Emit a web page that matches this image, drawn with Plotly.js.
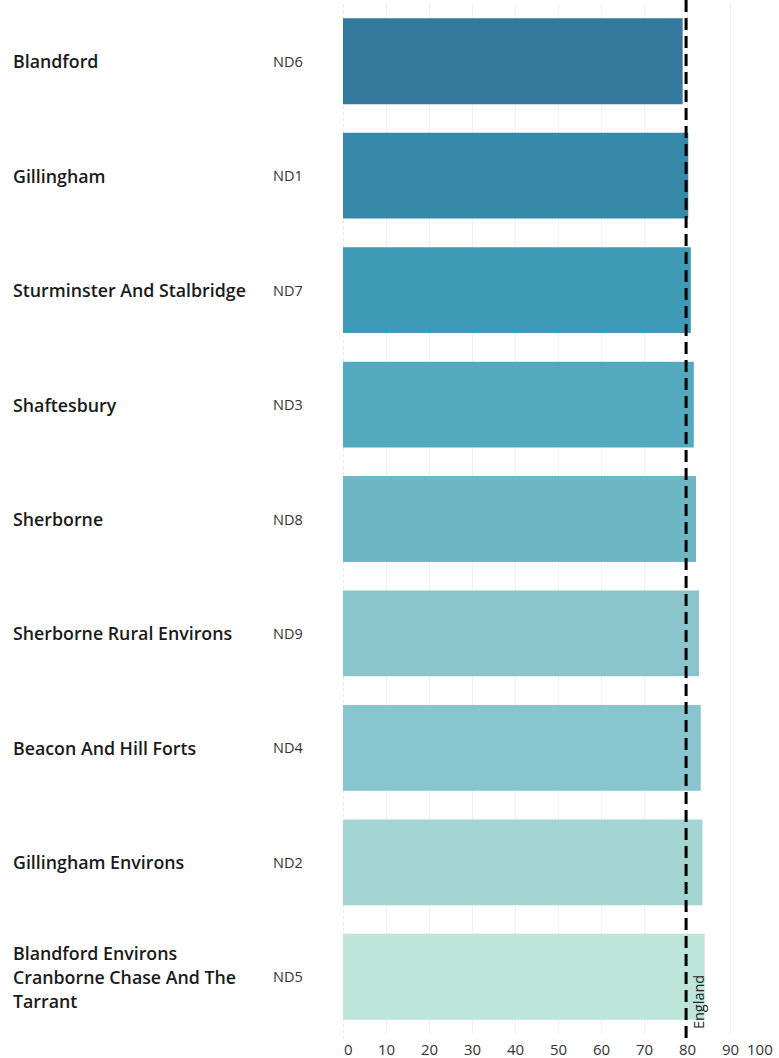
<!DOCTYPE html>
<html>
<head>
<meta charset="utf-8">
<script src="https://cdn.plot.ly/plotly-3.0.1.min.js"></script>
<style>
html,body{margin:0;padding:0;background:#fff;}
#chart{width:779px;height:1058px;}
</style>
</head>
<body>
<div id="chart"></div>
<script>
// ---- data ----
const areas = [
  "Blandford",
  "Gillingham",
  "Sturminster And Stalbridge",
  "Shaftesbury",
  "Sherborne",
  "Sherborne Rural Environs",
  "Beacon And Hill Forts",
  "Gillingham Environs",
  "Blandford Environs\nCranborne Chase And The\nTarrant"
];
const codes = ["ND6","ND1","ND7","ND3","ND8","ND9","ND4","ND2","ND5"];
const values = [78.8, 80.1, 80.7, 81.4, 81.9, 82.6, 83.0, 83.4, 83.9];
const barColors = ["#34799b","#3789aa","#3e9ab5","#53aabf","#6eb7c5","#8ac5cd","#89c5ce","#a3d6d2","#bde5da"];
const englandValue = 79.6;
const englandLabel = "England";
const tickVals = [0,10,20,30,40,50,60,70,80,90,100];
const tickText = ["0","10","20","30","40","50","60","70","80","90","100"];

// ---- layout helpers ----
const W = 779, H = 1058;
const mL = 343, mR = 5, mT = 4, mB = 24;
const plotW = W - mL - mR, plotH = H - mT - mB;
const px2paperX = p => (p - mL) / plotW;

const annotations = [];
areas.forEach((a, i) => {
  const lines = a.split("\n");
  lines.forEach((ln, j) => {
    annotations.push({
      xref: "paper", yref: "y", x: px2paperX(11), y: i,
      xanchor: "left", yanchor: "middle",
      yshift: -((j - (lines.length - 1) / 2) * 24),
      text: ln, showarrow: false,
      font: {family: "Open Sans, sans-serif", size: 17.8, color: "#1a1a1a", weight: 600}
    });
  });
  annotations.push({
    xref: "paper", yref: "y", x: px2paperX(271), y: i,
    xanchor: "left", yanchor: "middle",
    text: codes[i], showarrow: false,
    font: {family: "Open Sans, sans-serif", size: 14.5, color: "#333"}
  });
});
tickVals.forEach((v, i) => {
  const anchor = i === 0 ? "left" : (i === tickVals.length - 1 ? "right" : "center");
  annotations.push({
    xref: "x", yref: "paper", x: v, y: 0, yshift: -15,
    xanchor: anchor, yanchor: "middle", borderpad: 0,
    text: tickText[i], showarrow: false,
    font: {family: "Open Sans, sans-serif", size: 15, color: "#333"}
  });
});
annotations.push({
  xref: "x", yref: "paper", x: englandValue, y: 0, xshift: 12, yshift: 3,
  xanchor: "center", yanchor: "bottom", textangle: -90,
  text: englandLabel, showarrow: false,
  font: {family: "Open Sans, sans-serif", size: 14.5, color: "#222"}
});

const trace = {
  type: "bar", orientation: "h",
  x: values, y: areas.map((a, i) => i),
  marker: {color: barColors},
  hoverinfo: "skip"
};

const layout = {
  width: W, height: H,
  margin: {l: mL, r: mR, t: mT, b: mB, pad: 0},
  paper_bgcolor: "#fff", plot_bgcolor: "#fff",
  bargap: 0.25,
  showlegend: false,
  xaxis: {
    range: [0, 100], tickvals: tickVals, showticklabels: false,
    showgrid: true, gridcolor: "#f0f0f0", gridwidth: 1,
    zeroline: false, showline: false, ticks: "", fixedrange: true
  },
  yaxis: {
    range: [8.5, -0.5], showticklabels: false, showgrid: false,
    zeroline: false, showline: false, ticks: "", fixedrange: true
  },
  shapes: [
    {type: "line", xref: "x", yref: "paper", x0: 0, x1: 0, y0: -0.005, y1: 1,
     line: {color: "#cfcfcf", width: 1, dash: "dot"}, layer: "below"},
    {type: "line", xref: "x", yref: "paper", x0: englandValue, x1: englandValue, y0: -0.004, y1: 1.004,
     line: {color: "#000", width: 3, dash: "12px,6px"}}
  ],
  annotations: annotations
};

Plotly.newPlot("chart", [trace], layout, {displayModeBar: false, staticPlot: true});
</script>
</body>
</html>
